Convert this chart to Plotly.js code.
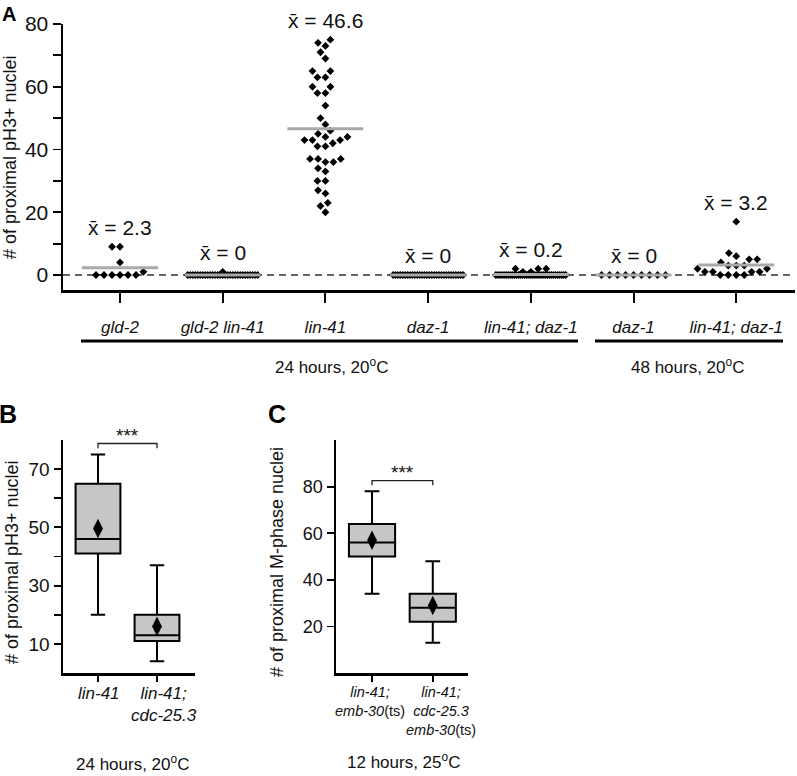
<!DOCTYPE html>
<html>
<head>
<meta charset="utf-8">
<script src="https://cdn.plot.ly/plotly-3.0.1.min.js"></script>
<style>html,body{margin:0;padding:0;background:#fff;}#chart{width:797px;height:776px;}</style>
</head>
<body>
<div id="chart"></div>
<script>
// ---------------- Panel A data ----------------
const categoriesA = ['gld-2', 'gld-2 lin-41', 'lin-41', 'daz-1', 'lin-41; daz-1', 'daz-1', 'lin-41; daz-1'];
const gld2 = [0, 0, 0, 0, 0, 0, 1, 4, 9, 9];
const gld2lin41 = [0, 0, 0, 0, 0, 0, 0, 0, 0, 0, 0, 0, 0, 0, 0, 0, 0, 0, 0, 0, 0, 0, 0, 0, 0, 0, 0, 0, 0, 1];
const lin41 = [75, 74, 73, 71, 69, 65, 65, 63, 63, 60, 60, 58, 58, 54, 50, 48, 46, 45, 44, 44,
               43, 43, 43, 42, 41, 41, 37, 37, 37, 36, 36, 34, 33, 30, 30, 27, 26, 23, 22, 20];
const daz1_24h = [0, 0, 0, 0, 0, 0, 0, 0, 0, 0, 0, 0, 0, 0, 0, 0, 0, 0, 0, 0, 0, 0, 0, 0, 0, 0, 0, 0, 0, 0];
const lin41daz1_24h = [0, 0, 0, 0, 0, 0, 0, 0, 0, 0, 0, 0, 0, 0, 0, 0, 0, 0, 0, 0, 0, 0, 0, 0, 0, 0, 0, 0, 0, 0, 0, 0, 0, 0, 0, 2, 1, 2, 2, 1];
const daz1_48h = [0, 0, 0, 0, 0, 0, 0, 0, 0];
const lin41daz1_48h = [17, 7, 6, 5, 5, 4, 3, 3, 3, 2, 2, 1, 1, 1, 1, 0, 0, 0, 0];
const seriesA = [gld2, gld2lin41, lin41, daz1_24h, lin41daz1_24h, daz1_48h, lin41daz1_48h];
const meansA = [2.3, 0, 46.6, 0, 0.2, 0, 3.2];
const groupLabelsA = ['24 hours, 20<sup>o</sup>C', '48 hours, 20<sup>o</sup>C'];
const yTicksA = [0, 10, 20, 30, 40, 50, 60, 70, 80];
const yTickTextA = ['0', '', '20', '', '40', '', '60', '', '80'];

// ---------------- Panel B data ----------------
const categoriesB = ['<i>lin-41</i>', '<i>lin-41;</i><br><i>cdc-25.3</i>'];
const q1B = [41, 11], medianB = [46, 13], q3B = [65, 20], lowB = [20, 4], highB = [75, 37], meanB = [49.6, 16];
const yTicksB = [10, 20, 30, 40, 50, 60, 70];
const yTickTextB = ['10', '', '30', '', '50', '', '70'];

// ---------------- Panel C data ----------------
const categoriesC = ['<i>lin-41;</i><br><i>emb-30</i>(ts)', '<i>lin-41;</i><br><i>cdc-25.3</i><br><i>emb-30</i>(ts)'];
const q1C = [50, 22], medianC = [56, 28], q3C = [64, 34], lowC = [34, 13], highC = [78, 48], meanC = [57, 29];
const yTicksC = [20, 40, 60, 80];

// ---------------- layout helpers ----------------
const W = 797, H = 776;
const px = v => v / W;            // horizontal pixel -> paper
const py = v => 1 - v / H;        // vertical pixel -> paper
const FONT = 'Liberation Sans, Arial, sans-serif';
const NARROW = 'Liberation Sans Narrow, Arial Narrow, Liberation Sans, Arial, sans-serif';

// Panel A geometry
const A_x0 = 63, A_x1 = 795, A_yTop = 24, A_yBot = 290;
const xRangeA = [-0.555, 6.572], yRangeA = [-4.78, 80];
const pxPerXA = (A_x1 - A_x0) / (xRangeA[1] - xRangeA[0]);
const pxPerYA = (A_yBot - A_yTop) / (yRangeA[1] - yRangeA[0]);

// simple beeswarm (pixel space) -> offsets in x data units
function swarm(vals, d, denseMin, denseWidth) {
  const counts = {};
  vals.forEach(v => counts[v] = (counts[v] || 0) + 1);
  const off = new Array(vals.length).fill(0);
  const order = vals.map((v, i) => i).sort((a, b) => vals[a] - vals[b]);
  const rowSeen = {};
  const placed = [];
  order.forEach(i => {
    const v = vals[i];
    if (counts[v] >= denseMin) {
      const k = rowSeen[v] || 0; rowSeen[v] = k + 1;
      const m = counts[v];
      const sp = Math.min(d, denseWidth / (m - 1));
      off[i] = (k - (m - 1) / 2) * sp;
      return;
    }
    const y = v * pxPerYA;
    const cands = [0];
    placed.forEach(p => {
      const dy = Math.abs(p.y - y);
      if (dy < d) { const dx = Math.sqrt(d * d - dy * dy); cands.push(p.x + dx, p.x - dx); }
    });
    cands.sort((a, b) => (Math.abs(a) - Math.abs(b)) || (a - b));
    for (const c of cands) {
      if (placed.every(p => (p.x - c) ** 2 + (p.y - y) ** 2 >= d * d - 1e-6)) { off[i] = c; break; }
    }
    placed.push({ x: off[i], y: y });
  });
  return off.map(o => o / pxPerXA);
}

const traces = [];
const annotations = [];
const shapes = [];

// points
seriesA.forEach((vals, ci) => {
  const offs = swarm(vals, 8, 10, 70);
  traces.push({
    type: 'scatter', mode: 'markers', xaxis: 'x', yaxis: 'y',
    x: vals.map((v, i) => ci + offs[i]), y: vals,
    marker: { symbol: 'diamond', size: 6, color: '#000' },
    cliponaxis: false, hoverinfo: 'skip'
  });
});
// mean lines
meansA.forEach((m, ci) => {
  traces.push({
    type: 'scatter', mode: 'lines', xaxis: 'x', yaxis: 'y',
    x: [ci - 0.37, ci + 0.37], y: [m, m],
    line: { color: '#a9a9a9', width: 3 }, hoverinfo: 'skip'
  });
  annotations.push({
    xref: 'x', yref: 'y', x: ci, y: Math.max(...seriesA[ci]), yanchor: 'bottom', yshift: 6,
    text: 'x\u0304 = ' + m, showarrow: false,
    font: { family: NARROW, size: 21, color: '#111' }
  });
});

// zero dashed line
shapes.push({ type: 'line', xref: 'x domain', yref: 'y', x0: 0, x1: 1, y0: 0, y1: 0,
  line: { color: '#333', width: 1.5, dash: '7px,5px' }, layer: 'below' });

// group brackets panel A
const groupSpans = [[81, 578], [595, 783]];
const groupLineY = 341, groupTextY = 366;
groupSpans.forEach((s, gi) => {
  shapes.push({ type: 'line', xref: 'paper', yref: 'paper', x0: px(s[0]), x1: px(s[1]), y0: py(groupLineY), y1: py(groupLineY),
    line: { color: '#000', width: 3 } });
  annotations.push({ xref: 'paper', yref: 'paper', x: px((s[0] + s[1]) / 2 + (gi === 0 ? 2 : -2)), y: py(groupTextY),
    text: groupLabelsA[gi], showarrow: false, xanchor: 'center', yanchor: 'middle',
    font: { family: FONT, size: 17, color: '#111' } });
});

// ---------------- Panel B traces ----------------
const boxStyle = { fillcolor: '#c6c6c6', line: { color: '#000', width: 2 }, whiskerwidth: 0.32, width: 0.76 };
traces.push(Object.assign({
  type: 'box', xaxis: 'x2', yaxis: 'y2', x: [0, 1],
  q1: q1B, median: medianB, q3: q3B, lowerfence: lowB, upperfence: highB,
  boxpoints: false, hoverinfo: 'skip'
}, boxStyle));
traces.push({ type: 'scatter', mode: 'markers', xaxis: 'x2', yaxis: 'y2', x: [0, 1], y: meanB,
  marker: { symbol: 'diamond-tall', size: 14, color: '#000' }, hoverinfo: 'skip' });

// ---------------- Panel C traces ----------------
traces.push(Object.assign({
  type: 'box', xaxis: 'x3', yaxis: 'y3', x: [0, 1],
  q1: q1C, median: medianC, q3: q3C, lowerfence: lowC, upperfence: highC,
  boxpoints: false, hoverinfo: 'skip'
}, boxStyle));
traces.push({ type: 'scatter', mode: 'markers', xaxis: 'x3', yaxis: 'y3', x: [0, 1], y: meanC,
  marker: { symbol: 'diamond-tall', size: 14, color: '#000' }, hoverinfo: 'skip' });

// category labels for B and C (second label sits slightly right of its tick, as in the source)
function catLabels(xr, labels, topPx, size, shifts) {
  labels.forEach((t, i) => {
    annotations.push({ xref: xr, yref: 'paper', x: i, xshift: shifts[i], y: py(topPx), yanchor: 'top',
      text: t, showarrow: false, align: 'center', xanchor: 'center',
      font: { family: FONT, size: size, color: '#111' } });
  });
}
catLabels('x2', categoriesB, 682, 17, [1, 7]);
catLabels('x3', categoriesC, 682, 14.5, [-2, 8]);

// significance brackets
function sigBracket(xr, yr, level, drop, starShift) {
  shapes.push({ type: 'path', xref: xr, yref: yr,
    path: 'M 0,' + (level - drop) + ' L 0,' + level + ' L 1,' + level + ' L 1,' + (level - drop),
    line: { color: '#222', width: 1.3 } });
  annotations.push({ xref: xr, yref: yr, x: 0.5, y: level, yanchor: 'bottom', yshift: starShift,
    text: '***', showarrow: false, font: { family: FONT, size: 19, color: '#111' } });
}
sigBracket('x2', 'y2', 78.8, 1.6, -4);
sigBracket('x3', 'y3', 82.6, 2.0, -4);

// panel labels
[['A', 9, 14, 20], ['B', 8, 414, 25], ['C', 277, 414, 25]].forEach(l => {
  annotations.push({ xref: 'paper', yref: 'paper', x: px(l[1]), y: py(l[2]), text: '<b>' + l[0] + '</b>',
    showarrow: false, xanchor: 'center', yanchor: 'middle', font: { family: FONT, size: l[3], color: '#000' } });
});

// axis titles
[['# of proximal pH3+ nuclei', 10, 157], ['# of proximal pH3+ nuclei', 12, 562], ['# of proximal M-phase nuclei', 277, 562]].forEach(t => {
  annotations.push({ xref: 'paper', yref: 'paper', x: px(t[1]), y: py(t[2]), text: t[0], textangle: -90,
    showarrow: false, xanchor: 'center', yanchor: 'middle', font: { family: FONT, size: 18, color: '#111' } });
});

// bottom captions B/C
annotations.push({ xref: 'paper', yref: 'paper', x: px(132), y: py(763), text: '24 hours, 20<sup>o</sup>C', showarrow: false,
  xanchor: 'center', yanchor: 'middle', font: { family: FONT, size: 17, color: '#111' } });
annotations.push({ xref: 'paper', yref: 'paper', x: px(403), y: py(761), text: '12 hours, 25<sup>o</sup>C', showarrow: false,
  xanchor: 'center', yanchor: 'middle', font: { family: FONT, size: 17, color: '#111' } });

const axisCommon = { showline: true, linecolor: '#000', showgrid: false, zeroline: false, ticks: 'outside',
  tickcolor: '#000', fixedrange: true, tickangle: 0 };

const layout = {
  width: W, height: H, margin: { l: 0, r: 0, t: 0, b: 0 },
  paper_bgcolor: '#fff', plot_bgcolor: '#fff', showlegend: false,
  font: { family: FONT, color: '#111' },
  xaxis: Object.assign({}, axisCommon, { domain: [px(A_x0), px(A_x1)], range: xRangeA, anchor: 'y',
    tickvals: categoriesA.map((c, i) => i), ticktext: categoriesA.map(c => '<i>' + c + '</i>'),
    ticklen: 10, tickwidth: 2, linewidth: 2.5, ticklabelstandoff: 10,
    tickfont: { family: FONT, size: 17, color: '#111' } }),
  yaxis: Object.assign({}, axisCommon, { domain: [py(A_yBot), py(A_yTop)], range: yRangeA, anchor: 'x',
    tickvals: yTicksA, ticktext: yTickTextA, ticklen: 8, tickwidth: 1.8, linewidth: 2.5,
    tickfont: { family: NARROW, size: 21, color: '#111' } }),
  xaxis2: Object.assign({}, axisCommon, { domain: [px(63), px(195)], range: [-0.593, 1.644], anchor: 'y2',
    tickvals: [0, 1], showticklabels: false, ticklen: 6, tickwidth: 2, linewidth: 2.5 }),
  yaxis2: Object.assign({}, axisCommon, { domain: [py(673), py(440)], range: [0, 80], anchor: 'x2',
    tickvals: yTicksB, ticktext: yTickTextB, ticklen: 7, tickwidth: 1.8, linewidth: 2.5,
    tickfont: { family: FONT, size: 19, color: '#111' } }),
  xaxis3: Object.assign({}, axisCommon, { domain: [px(336), px(468)], range: [-0.593, 1.58], anchor: 'y3',
    tickvals: [0, 1], showticklabels: false, ticklen: 6, tickwidth: 2, linewidth: 2.5 }),
  yaxis3: Object.assign({}, axisCommon, { domain: [py(673), py(440)], range: [0, 100], anchor: 'x3',
    tickvals: yTicksC, ticklen: 7, tickwidth: 1.8, linewidth: 2.5,
    tickfont: { family: FONT, size: 18, color: '#111' } }),
  shapes: shapes,
  annotations: annotations
};

Plotly.newPlot('chart', traces, layout, { staticPlot: true, displayModeBar: false });
</script>
</body>
</html>
